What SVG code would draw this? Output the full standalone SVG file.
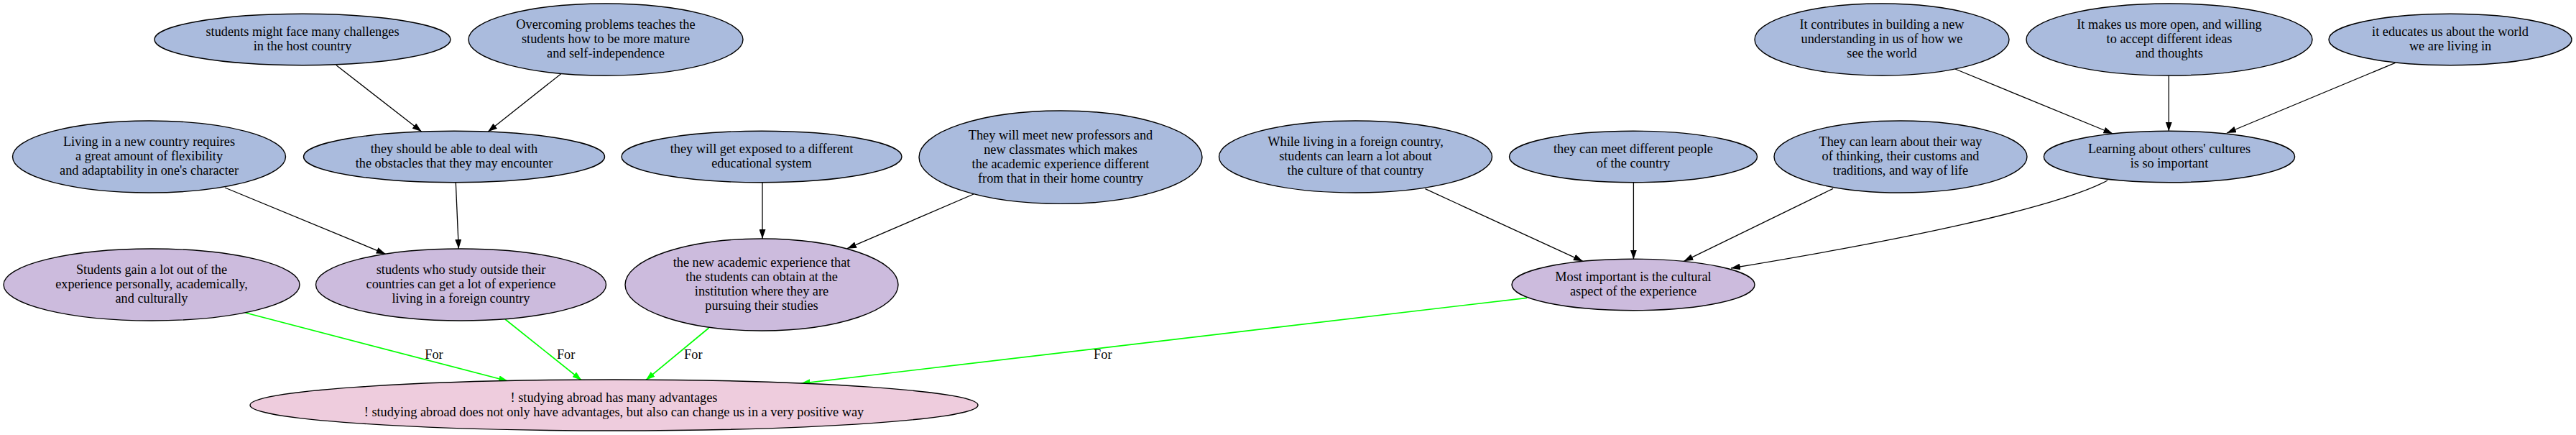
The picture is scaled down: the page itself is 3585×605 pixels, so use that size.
<svg xmlns="http://www.w3.org/2000/svg" width="3585" height="605" viewBox="0 0 3585 605">
<style>
.n ellipse{stroke:#000;stroke-width:1.4}
.b ellipse{fill:#aabbdd}
.p ellipse{fill:#ccbbdd}
.k ellipse{fill:#eeccdd}
text{font-family:"Liberation Serif","Times New Roman",serif;font-size:18.3px;fill:#000;text-anchor:middle}
.e{fill:none;stroke:#000;stroke-width:1.3}
.g{fill:none;stroke:#00ff00;stroke-width:1.7}
</style>
<defs>
<marker id="ab" viewBox="0 0 13 9" refX="13" refY="4.5" markerWidth="13" markerHeight="9" markerUnits="userSpaceOnUse" orient="auto"><path d="M0,0 L13,4.5 L0,9 z" fill="#000"/></marker>
<marker id="ag" viewBox="0 0 13 9" refX="13" refY="4.5" markerWidth="13" markerHeight="9" markerUnits="userSpaceOnUse" orient="auto"><path d="M0,0 L13,4.5 L0,9 z" fill="#00ff00"/></marker>
</defs>
<rect width="3585" height="605" fill="#fff"/>
<g id="edges">
<line class="e" x1="468" y1="90.7" x2="586.7" y2="183" marker-end="url(#ab)"/>
<line class="e" x1="780.7" y1="102.7" x2="679" y2="183.3" marker-end="url(#ab)"/>
<line class="e" x1="313" y1="261" x2="536.7" y2="353.3" marker-end="url(#ab)"/>
<line class="e" x1="634.3" y1="254" x2="638.3" y2="346" marker-end="url(#ab)"/>
<line class="e" x1="1061" y1="254" x2="1061" y2="332" marker-end="url(#ab)"/>
<line class="e" x1="1355" y1="270" x2="1179" y2="345.7" marker-end="url(#ab)"/>
<line class="e" x1="1983.5" y1="262.7" x2="2202.8" y2="363.3" marker-end="url(#ab)"/>
<line class="e" x1="2273.4" y1="254" x2="2273.4" y2="360.7" marker-end="url(#ab)"/>
<line class="e" x1="2551" y1="262.3" x2="2343.4" y2="363.3" marker-end="url(#ab)"/>
<path class="e" d="M2933,251 C2860,290 2640,335 2409,373" marker-end="url(#ab)"/>
<line class="e" x1="2721" y1="96" x2="2940.4" y2="186" marker-end="url(#ab)"/>
<line class="e" x1="3018.3" y1="105.3" x2="3018.3" y2="182.7" marker-end="url(#ab)"/>
<line class="e" x1="3333.5" y1="87.3" x2="3099" y2="185" marker-end="url(#ab)"/>
<line class="g" x1="341.6" y1="435" x2="707" y2="530" marker-end="url(#ag)"/>
<line class="g" x1="703" y1="444" x2="809.4" y2="529" marker-end="url(#ag)"/>
<line class="g" x1="986.6" y1="456" x2="898.7" y2="528.7" marker-end="url(#ag)"/>
<line class="g" x1="2125" y1="414.3" x2="1114.6" y2="533.3" marker-end="url(#ag)"/>
<text x="604" y="499">For</text>
<text x="787.6" y="499">For</text>
<text x="964.8" y="499">For</text>
<text x="1534.8" y="499">For</text>
</g>
<g id="n1" class="n b"><ellipse cx="421" cy="55" rx="206" ry="35.7"/><text x="421" y="50">students might face many challenges</text><text x="421" y="70">in the host country</text></g>
<g id="n2" class="n b"><ellipse cx="843" cy="55" rx="191" ry="50"/><text x="843" y="40">Overcoming problems teaches the</text><text x="843" y="60">students how to be more mature</text><text x="843" y="80">and self-independence</text></g>
<g id="n3" class="n b"><ellipse cx="207.5" cy="218" rx="190" ry="50"/><text x="207.5" y="203">Living in a new country requires</text><text x="207.5" y="223">a great amount of flexibility</text><text x="207.5" y="243">and adaptability in one's character</text></g>
<g id="n4" class="n b"><ellipse cx="632" cy="218" rx="209.5" ry="35.7"/><text x="632" y="213">they should be able to deal with</text><text x="632" y="233">the obstacles that they may encounter</text></g>
<g id="n5" class="n b"><ellipse cx="1060" cy="218" rx="195" ry="35.7"/><text x="1060" y="213">they will get exposed to a different</text><text x="1060" y="233">educational system</text></g>
<g id="n6" class="n b"><ellipse cx="1476" cy="218.7" rx="197" ry="64.7"/><text x="1476" y="193.7">They will meet new professors and</text><text x="1476" y="213.7">new classmates which makes</text><text x="1476" y="233.7">the academic experience different</text><text x="1476" y="253.7">from that in their home country</text></g>
<g id="n7" class="n b"><ellipse cx="1886.5" cy="218" rx="190" ry="50"/><text x="1886.5" y="203">While living in a foreign country,</text><text x="1886.5" y="223">students can learn a lot about</text><text x="1886.5" y="243">the culture of that country</text></g>
<g id="n8" class="n b"><ellipse cx="2273" cy="218" rx="172.5" ry="35.7"/><text x="2273" y="213">they can meet different people</text><text x="2273" y="233">of the country</text></g>
<g id="n9" class="n b"><ellipse cx="2645" cy="218" rx="176" ry="50"/><text x="2645" y="203">They can learn about their way</text><text x="2645" y="223">of thinking, their customs and</text><text x="2645" y="243">traditions, and way of life</text></g>
<g id="n10" class="n b"><ellipse cx="3019" cy="218" rx="174.6" ry="35.7"/><text x="3019" y="213">Learning about others' cultures</text><text x="3019" y="233">is so important</text></g>
<g id="n11" class="n b"><ellipse cx="2619" cy="55" rx="177" ry="50"/><text x="2619" y="40">It contributes in building a new</text><text x="2619" y="60">understanding in us of how we</text><text x="2619" y="80">see the world</text></g>
<g id="n12" class="n b"><ellipse cx="3019" cy="55" rx="199" ry="50"/><text x="3019" y="40">It makes us more open, and willing</text><text x="3019" y="60">to accept different ideas</text><text x="3019" y="80">and thoughts</text></g>
<g id="n13" class="n b"><ellipse cx="3410" cy="55" rx="169" ry="35.7"/><text x="3410" y="50">it educates us about the world</text><text x="3410" y="70">we are living in</text></g>
<g id="n14" class="n p"><ellipse cx="211" cy="396" rx="206" ry="50"/><text x="211" y="381">Students gain a lot out of the</text><text x="211" y="401">experience personally, academically,</text><text x="211" y="421">and culturally</text></g>
<g id="n15" class="n p"><ellipse cx="641.5" cy="396" rx="202" ry="50"/><text x="641.5" y="381">students who study outside their</text><text x="641.5" y="401">countries can get a lot of experience</text><text x="641.5" y="421">living in a foreign country</text></g>
<g id="n16" class="n p"><ellipse cx="1060" cy="396" rx="190" ry="64"/><text x="1060" y="371">the new academic experience that</text><text x="1060" y="391">the students can obtain at the</text><text x="1060" y="411">institution where they are</text><text x="1060" y="431">pursuing their studies</text></g>
<g id="n17" class="n p"><ellipse cx="2273" cy="396" rx="169" ry="35.7"/><text x="2273" y="391">Most important is the cultural</text><text x="2273" y="411">aspect of the experience</text></g>
<g id="n18" class="n k"><ellipse cx="854.5" cy="563.5" rx="506.5" ry="35.5"/><text x="854.5" y="558.5">! studying abroad has many advantages</text><text x="854.5" y="578.5">! studying abroad does not only have advantages, but also can change us in a very positive way</text></g>
</svg>
